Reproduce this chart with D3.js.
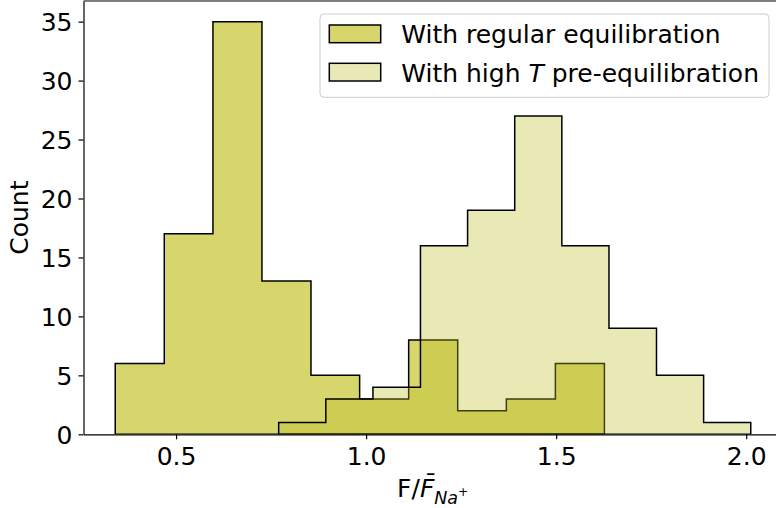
<!DOCTYPE html>
<html>
<head>
<meta charset="utf-8">
<script src="https://cdn.jsdelivr.net/npm/d3@7/dist/d3.min.js"></script>
<style>
  body { margin: 0; background: #ffffff; }
  svg { display: block; }
  text { font-family: "DejaVu Sans", sans-serif; fill: #000; }
</style>
</head>
<body>
<svg id="chart" width="776" height="508"></svg>
<script>
// Histogram bin edges and counts for the two equilibration protocols
const regularEdges = [0.340, 0.469, 0.597, 0.726, 0.855, 0.983, 1.112, 1.241, 1.369, 1.498, 1.627];
const regularCounts = [6, 17, 35, 13, 5, 3, 8, 2, 3, 6];

const highTEdges = [0.770, 0.894, 1.018, 1.143, 1.267, 1.391, 1.515, 1.639, 1.764, 1.888, 2.012];
const highTCounts = [1, 3, 4, 16, 19, 27, 16, 9, 5, 1];

const xTickValues = [0.5, 1.0, 1.5, 2.0];
const yTickValues = [0, 5, 10, 15, 20, 25, 30, 35];

const xDomain = [0.2565, 2.0942];
const yDomain = [0, 36.75];

const FONT = 25;
const olive = "#bcbd22";
const regularFill = "#d6d66c";
const highTOpacity = 0.33;

const svg = d3.select("#chart");
const plot = { left: 83.5, right: 782, top: 1, bottom: 434.3 };

const x = d3.scaleLinear().domain(xDomain).range([plot.left, plot.right]);
const y = d3.scaleLinear().domain(yDomain).range([plot.bottom, plot.top]);

// Step outline of a filled histogram (edges + counts -> closed polygon)
function stepPoints(edges, counts) {
  const pts = [[edges[0], 0]];
  counts.forEach((c, i) => {
    pts.push([edges[i], c]);
    pts.push([edges[i + 1], c]);
  });
  pts.push([edges[edges.length - 1], 0]);
  return pts;
}
const line = d3.line().x(d => x(d[0])).y(d => y(d[1]));

svg.append("defs").append("clipPath").attr("id", "plotclip")
  .append("rect")
  .attr("x", plot.left).attr("y", plot.top)
  .attr("width", plot.right - plot.left).attr("height", plot.bottom - plot.top);

const marks = svg.append("g").attr("clip-path", "url(#plotclip)");

marks.append("path")
  .attr("d", line(stepPoints(regularEdges, regularCounts)) + "Z")
  .attr("fill", regularFill)
  .attr("stroke", "#000")
  .attr("stroke-width", 1.5)
  .attr("stroke-linejoin", "miter");

marks.append("path")
  .attr("d", line(stepPoints(highTEdges, highTCounts)) + "Z")
  .attr("fill", olive)
  .attr("fill-opacity", highTOpacity)
  .attr("stroke", "#000")
  .attr("stroke-width", 1.5)
  .attr("stroke-linejoin", "miter");

// Axes
const xAxis = d3.axisBottom(x)
  .tickValues(xTickValues)
  .tickFormat(d3.format(".1f"))
  .tickSize(5)
  .tickSizeOuter(0)
  .tickPadding(8);

const yAxis = d3.axisLeft(y)
  .tickValues(yTickValues)
  .tickFormat(d3.format("d"))
  .tickSize(5)
  .tickSizeOuter(0)
  .tickPadding(6);

const gx = svg.append("g")
  .attr("transform", `translate(0,${plot.bottom})`)
  .call(xAxis);
const gy = svg.append("g")
  .attr("transform", `translate(${plot.left},0)`)
  .call(yAxis);

[gx, gy].forEach(g => {
  g.selectAll("text")
    .attr("font-size", FONT)
    .attr("font-family", "DejaVu Sans")
    .attr("fill", "#000");
  g.selectAll("line").attr("stroke", "#000").attr("stroke-width", 1.2);
  g.select(".domain").attr("stroke", "#000").attr("stroke-width", 1.2);
});
gy.selectAll("text").attr("dy", "0.36em");

// Top spine
svg.append("line")
  .attr("x1", plot.left).attr("x2", plot.right)
  .attr("y1", plot.top).attr("y2", plot.top)
  .attr("stroke", "#000").attr("stroke-width", 1.2);
// Right spine (outside the visible area)
svg.append("line")
  .attr("x1", plot.right).attr("x2", plot.right)
  .attr("y1", plot.top).attr("y2", plot.bottom)
  .attr("stroke", "#000").attr("stroke-width", 1.2);

// Axis titles
svg.append("text")
  .attr("transform", `translate(28,${(plot.top + plot.bottom) / 2}) rotate(-90)`)
  .attr("text-anchor", "middle")
  .attr("font-size", FONT)
  .text("Count");

const xl = svg.append("text")
  .attr("x", (plot.left + plot.right) / 2)
  .attr("y", 496.5)
  .attr("text-anchor", "middle")
  .attr("font-size", FONT);
xl.append("tspan").text("F/");
xl.append("tspan").attr("font-style", "italic").text("F\u0304");
xl.append("tspan").attr("font-style", "italic").attr("font-size", 17.5).attr("dy", 7).text("Na");
xl.append("tspan").attr("font-size", 12.3).attr("dy", -8).text("+");

// Legend
const legend = svg.append("g");
legend.append("rect")
  .attr("x", 320).attr("y", 14)
  .attr("width", 449).attr("height", 83.3)
  .attr("rx", 4).attr("ry", 4)
  .attr("fill", "#fff").attr("fill-opacity", 0.8)
  .attr("stroke", "#cccccc").attr("stroke-width", 1);

const legendItems = [
  { fill: regularFill, opacity: 1, y: 25, baseline: 43.3, parts: [{ t: "With regular equilibration" }] },
  { fill: olive, opacity: highTOpacity, y: 63.3, baseline: 81.5,
    parts: [{ t: "With high " }, { t: "T", italic: true }, { t: " pre-equilibration" }] }
];
legendItems.forEach(item => {
  legend.append("rect")
    .attr("x", 329.3).attr("y", item.y)
    .attr("width", 51.4).attr("height", 17.7)
    .attr("fill", item.fill).attr("fill-opacity", item.opacity)
    .attr("stroke", "#000").attr("stroke-width", 1.5);
  const t = legend.append("text")
    .attr("x", 401.3).attr("y", item.baseline)
    .attr("font-size", FONT)
    .attr("xml:space", "preserve")
    .style("white-space", "pre");
  item.parts.forEach(p => {
    const s = t.append("tspan").text(p.t);
    if (p.italic) s.attr("font-style", "italic");
  });
});
</script>
</body>
</html>
